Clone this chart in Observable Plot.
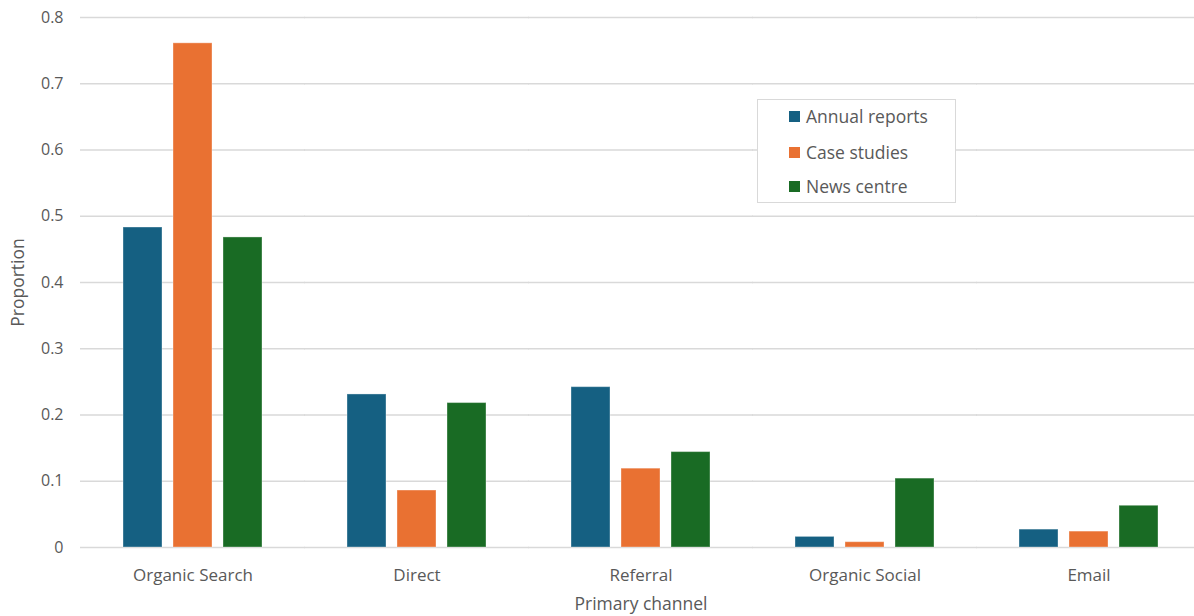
<!DOCTYPE html>
<html><head><meta charset="utf-8">
<script src="https://cdn.jsdelivr.net/npm/d3@7"></script>
<script src="https://cdn.jsdelivr.net/npm/@observablehq/plot@0.6"></script>
<style>
body{margin:0;background:#fff}
#chart{position:relative;width:1194px;height:616px;overflow:hidden}
.legend{position:absolute;left:757px;top:99px;width:197px;height:102px;border:1.5px solid #d9d9d9;background:#fff;font-family:"Open Sans",sans-serif;font-size:17.5px;color:#595959}
.legend .row{position:absolute;left:31px;display:flex;align-items:center;height:22px;white-space:nowrap}
.legend .sw{width:11px;height:11px;margin-right:6px;flex:none}
</style></head><body><div id="chart"></div><script>
const channels = ["Organic Search", "Direct", "Referral", "Organic Social", "Email"];
const seriesNames = ["Annual reports", "Case studies", "News centre"];
const annualReports = [0.483, 0.231, 0.242, 0.016, 0.027];
const caseStudies = [0.761, 0.086, 0.119, 0.008, 0.024];
const newsCentre = [0.468, 0.218, 0.144, 0.104, 0.063];
const seriesColors = ["#156082", "#E97132", "#196B24"];
const yTicks = [0, 0.1, 0.2, 0.3, 0.4, 0.5, 0.6, 0.7, 0.8];

const seriesValues = [annualReports, caseStudies, newsCentre];
const data = channels.flatMap((c, i) => seriesNames.map((s, j) => ({channel: c, series: s, value: seriesValues[j][i]})));

const plot = Plot.plot({
  width: 1194, height: 616,
  marginLeft: 122, marginRight: 35, marginTop: 17, marginBottom: 69,
  style: {fontFamily: "'Open Sans', sans-serif", fontSize: "16px", color: "#595959", background: "#fff"},
  fx: {domain: channels, paddingInner: 0.381, paddingOuter: 0, label: null},
  x: {domain: seriesNames, paddingInner: 0.22, paddingOuter: 0, axis: null},
  y: {domain: [0, 0.8], label: null},
  color: {domain: seriesNames, range: seriesColors},
  marks: [
    Plot.ruleY(yTicks, {stroke: "#d9d9d9", strokeWidth: 1.5, insetLeft: -43, insetRight: -43}),
    Plot.barY(data, {fx: "channel", x: "series", y: "value", fill: "series", stroke: "white", strokeOpacity: 0.35, strokeWidth: 1}),
    Plot.axisY({ticks: yTicks, tickSize: 0, tickPadding: 60, tickFormat: d => String(d), label: "Proportion", labelArrow: "none", labelAnchor: "center", labelOffset: 112}),
    Plot.axisFx({anchor: "bottom", tickSize: 0, tickPadding: 21, fontSize: 17, label: "Primary channel", labelArrow: "none", labelAnchor: "center", labelOffset: 62})
  ]
});
document.getElementById("chart").appendChild(plot);
d3.select(plot).selectAll('g[aria-label="y-axis label"] text, g[aria-label="fx-axis label"] text')
  .attr("font-size", 17.5)
  .each(function() { const t = d3.select(this); t.text(t.text().replace(/[↑→←↓]\s*/g, "").replace(/\s*[↑→←↓]/g, "")); });

const color = plot.scale("color");
const legend = d3.select("#chart").append("div").attr("class", "legend");
const rowTops = [5, 41, 75];
seriesNames.forEach((s, i) => {
  const row = legend.append("div").attr("class", "row").style("top", rowTops[i] + "px");
  row.append("div").attr("class", "sw").style("background", color.apply(s));
  row.append("span").text(s);
});
</script></body></html>
